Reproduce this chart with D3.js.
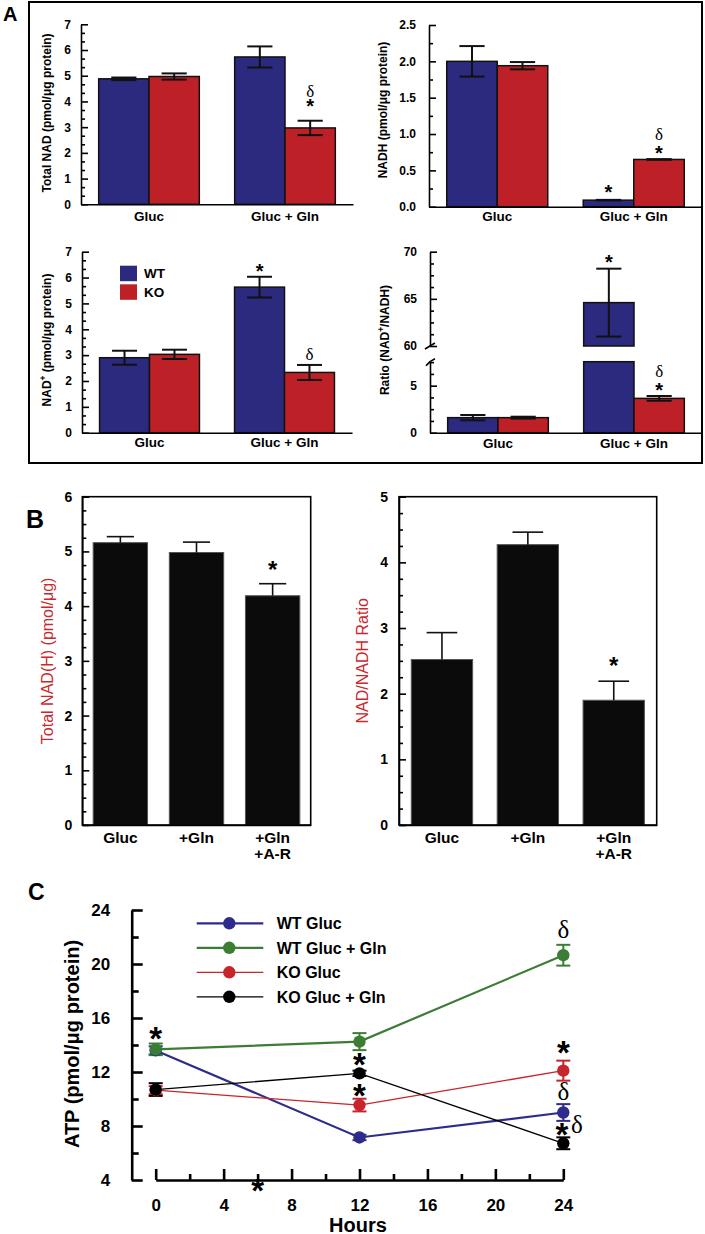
<!DOCTYPE html>
<html><head><meta charset="utf-8">
<script src="https://cdn.jsdelivr.net/npm/d3@7"></script>
<style>body{margin:0;background:#fff} svg{display:block}</style>
</head><body><svg id="c" width="705" height="1234"></svg>
<script>
// ================= DATA =================
// Panel A
const groupsA = ["Gluc", "Gluc + Gln"];
const seriesA = ["WT", "KO"];
const totalNadWT = [4.88, 5.73];
const totalNadWTErr = [0.05, 0.41];
const totalNadKO = [4.97, 2.97];
const totalNadKOErr = [0.12, 0.28];
const nadhWT = [2.00, 0.09];
const nadhWTErr = [0.21, 0.004];
const nadhKO = [1.94, 0.65];
const nadhKOErr = [0.05, 0.004];
const nadPlusWT = [2.90, 5.63];
const nadPlusWTErr = [0.27, 0.40];
const nadPlusKO = [3.03, 2.33];
const nadPlusKOErr = [0.18, 0.29];
const ratioWT = [1.60, 64.6];
const ratioWTErr = [0.28, 3.6];
const ratioKO = [1.60, 3.65];
const ratioKOErr = [0.10, 0.25];
const ticksTotalNad = [0, 1, 2, 3, 4, 5, 6, 7];
const ticksNadh = [0, 0.5, 1.0, 1.5, 2.0, 2.5];
const ticksNadPlus = [0, 1, 2, 3, 4, 5, 6, 7];
const ticksRatioLow = [0, 5];
const ticksRatioHigh = [60, 65, 70];
// Panel B
const catsB = ["Gluc", "+Gln", "+Gln\n+A-R"];
const totalNadhB = [5.16, 4.98, 4.19];
const totalNadhBErr = [0.11, 0.19, 0.22];
const ratioB = [2.52, 4.27, 1.90];
const ratioBErr = [0.41, 0.19, 0.29];
const ticksB1 = [0, 1, 2, 3, 4, 5, 6];
const ticksB2 = [0, 1, 2, 3, 4, 5];
// Panel C
const hoursC = [0, 12, 24];
const seriesC = ["WT Gluc", "WT Gluc + Gln", "KO Gluc", "KO Gluc + Gln"];
const atpWTGluc = [13.6, 7.15, 9.0];
const atpWTGlucErr = [0.3, 0.2, 0.62];
const atpWTGlucGln = [13.68, 14.25, 20.65];
const atpWTGlucGlnErr = [0.43, 0.63, 0.77];
const atpKOGluc = [10.65, 9.55, 12.1];
const atpKOGlucErr = [0.3, 0.47, 0.74];
const atpKOGlucGln = [10.7, 11.9, 6.72];
const atpKOGlucGlnErr = [0.47, 0.2, 0.44];
const ticksCY = [4, 8, 12, 16, 20, 24];
const ticksCX = [0, 4, 8, 12, 16, 20, 24];

// ================= STYLE =================
const FONT = '"Liberation Sans", Arial, Helvetica, sans-serif';
const SERIF = '"Liberation Serif", "Times New Roman", serif';
const colorsA = {WT: "#2b2a7e", KO: "#bd2127"};
const colorsC = ["#2d2c8c", "#3c7d36", "#c8242b", "#000000"];
const widthsC = [2.2, 2.2, 1.3, 1.3];
const redLabel = "#c9292e";

const svg = d3.select("#c");

function drawMark(parent, t, cx, cy, fs) {
  if (t === "*") {
    parent.append("text").attr("x", cx).attr("y", cy + 0.56 * fs).attr("text-anchor", "middle")
      .attr("font-family", FONT).attr("font-weight", "bold").attr("font-size", fs).text("*");
  } else {
    parent.append("text").attr("x", cx).attr("y", cy + 0.36 * fs).attr("text-anchor", "middle")
      .attr("font-family", SERIF).attr("font-size", fs).text(t);
  }
}

function yLabel(parent, parts, x, y, fs, color, weight) {
  const t = parent.append("text").attr("transform", `translate(${x},${y}) rotate(-90)`)
    .attr("text-anchor", "middle").attr("font-family", FONT).attr("font-size", fs)
    .attr("font-weight", weight).attr("fill", color);
  parts.forEach(p => {
    const ts = t.append("tspan").text(p.t);
    if (p.sup) ts.attr("font-size", fs * 0.7).attr("dy", -fs * 0.42);
    if (p.after) ts.attr("dy", fs * 0.42);
  });
}

function minorOf(lo, hi, step, majors) {
  return d3.range(lo, hi + 1e-6, step).filter(v => majors.every(m => Math.abs(m - v) > 1e-3));
}

function leftAxis(g, y, x, ticks, fmt, minor, pad, fs, majorLen, minorLen, sw) {
  const ax = g.append("g").attr("transform", `translate(${x},0)`)
    .call(d3.axisLeft(y).tickValues(ticks).tickFormat(fmt).tickSizeInner(-majorLen).tickSizeOuter(0).tickPadding(pad));
  ax.select(".domain").attr("stroke", "#000").attr("stroke-width", sw);
  ax.selectAll(".tick line").attr("stroke", "#000").attr("stroke-width", sw);
  ax.selectAll("text").attr("font-family", FONT).attr("font-weight", "bold").attr("font-size", fs).attr("fill", "#000");
  const mn = g.append("g").attr("transform", `translate(${x},0)`)
    .call(d3.axisLeft(y).tickValues(minor).tickFormat(() => "").tickSizeInner(-minorLen).tickSizeOuter(0));
  mn.select(".domain").remove();
  mn.selectAll(".tick line").attr("stroke", "#000").attr("stroke-width", sw);
  return ax;
}

function bandAxis(g, xb, y0, fs, base, sw, lineH) {
  const ax = g.append("g").attr("transform", `translate(0,${y0})`)
    .call(d3.axisBottom(xb).tickSize(0).tickSizeOuter(0));
  ax.select(".domain").attr("stroke", "#000").attr("stroke-width", sw);
  ax.selectAll(".tick text").each(function(d) {
    const t = d3.select(this);
    t.text(null).attr("y", base).attr("dy", null)
      .attr("font-family", FONT).attr("font-weight", "bold").attr("font-size", fs).attr("fill", "#000");
    String(d).split("\n").forEach((line, i) => {
      t.append("tspan").attr("x", 0).attr("y", base + i * lineH).text(line);
    });
  });
  return ax;
}

// ================= PANEL A =================
svg.append("rect").attr("x", 29).attr("y", 2).attr("width", 673).attr("height", 461)
  .attr("fill", "none").attr("stroke", "#000").attr("stroke-width", 2);
svg.append("text").attr("x", 3).attr("y", 21).attr("font-family", FONT).attr("font-weight", "bold")
  .attr("font-size", 20).text("A");

function chartA(o) {
  const g = svg.append("g");
  const x = d3.scaleBand().domain(groupsA).range([o.x0, o.x1]).paddingInner(0.26).paddingOuter(0.13);
  const xs = d3.scaleBand().domain(seriesA).range([0, x.bandwidth()]);
  const yLow = d3.scaleLinear().domain(o.domain).range([o.yBottom, o.yTop]);
  const yHigh = o.high ? d3.scaleLinear().domain(o.high.domain).range(o.high.range) : null;
  const yOf = v => (yHigh && v > o.domain[1]) ? yHigh(v) : yLow(v);
  const data = [];
  groupsA.forEach((grp, i) => {
    data.push({grp, s: "WT", v: o.wt[i], e: o.wtErr[i]});
    data.push({grp, s: "KO", v: o.ko[i], e: o.koErr[i]});
  });
  const bw = xs.bandwidth();
  data.forEach(d => {
    const bx = x(d.grp) + xs(d.s);
    if (yHigh && d.v > o.domain[1]) {
      g.append("rect").attr("x", bx).attr("y", yLow(o.domain[1])).attr("width", bw)
        .attr("height", yLow(0) - yLow(o.domain[1])).attr("fill", colorsA[d.s]).attr("stroke", "#111").attr("stroke-width", 1.5);
      g.append("rect").attr("x", bx).attr("y", yHigh(d.v)).attr("width", bw)
        .attr("height", yHigh(o.high.domain[0]) - yHigh(d.v)).attr("fill", colorsA[d.s]).attr("stroke", "#111").attr("stroke-width", 1.5);
    } else {
      g.append("rect").attr("x", bx).attr("y", yLow(d.v)).attr("width", bw)
        .attr("height", yLow(0) - yLow(d.v)).attr("fill", colorsA[d.s]).attr("stroke", "#111").attr("stroke-width", 1.5);
    }
  });
  data.forEach(d => {
    const cx = x(d.grp) + xs(d.s) + bw / 2;
    const yt = yOf(d.v + d.e), yb = yOf(d.v - d.e);
    g.append("line").attr("x1", cx).attr("x2", cx).attr("y1", yt).attr("y2", yb).attr("stroke", "#111").attr("stroke-width", 2);
    [yt, yb].forEach(yy => g.append("line").attr("x1", cx - bw / 4).attr("x2", cx + bw / 4)
      .attr("y1", yy).attr("y2", yy).attr("stroke", "#111").attr("stroke-width", 2));
  });
  // axes
  leftAxis(g, yLow, o.x0, o.ticks, o.fmt, minorOf(o.domain[0], o.domain[1], o.minorStep, o.ticks), o.pad, 12, 7, 4, 1.6);
  if (yHigh) {
    leftAxis(g, yHigh, o.x0, o.high.ticks, o.fmt, minorOf(o.high.domain[0], o.high.domain[1], o.minorStep, o.high.ticks), o.pad, 12, 7, 4, 1.6);
    const yb1 = yHigh(o.high.domain[0]), yb2 = yLow(o.domain[1]);
    g.append("line").attr("x1", o.x0 - 5).attr("y1", yb1 + 3).attr("x2", o.x0 + 5).attr("y2", yb1 - 3).attr("stroke", "#000").attr("stroke-width", 1.6);
    g.append("path").attr("d", `M${o.x0 - 4},${yb2 + 4} Q${o.x0},${yb2 - 1} ${o.x0 + 5},${yb2 - 3}`).attr("fill", "none").attr("stroke", "#000").attr("stroke-width", 1.6);
  }
  bandAxis(g, x, o.yBottom, 13.5, o.xBase, 1.6, 15);
  yLabel(g, o.ylabel, o.ylx, o.yly, 12, "#000", "bold");
  (o.annots || []).forEach(a => {
    const d = data.find(q => q.grp === groupsA[a.g] && q.s === a.s);
    const cx = x(d.grp) + xs(d.s) + bw / 2;
    drawMark(g, a.t, cx, yOf(d.v + d.e) - a.up, a.t === "*" ? 20 : 17);
  });
  return {g, x, xs};
}

chartA({x0: 81, x1: 353, yBottom: 204.3, yTop: 24.3, domain: [0, 7], ticks: ticksTotalNad, fmt: d3.format("d"),
  minorStep: 1 / 3, pad: 10, wt: totalNadWT, wtErr: totalNadWTErr, ko: totalNadKO, koErr: totalNadKOErr,
  xBase: 17, ylx: 51, yly: 113, ylabel: [{t: "Total NAD (pmol/\u03bcg protein)"}],
  annots: [{g: 1, s: "KO", t: "*", up: 19}, {g: 1, s: "KO", t: "\u03b4", up: 30}]});

chartA({x0: 429, x1: 702, yBottom: 206.7, yTop: 25, domain: [0, 2.5], ticks: ticksNadh, fmt: d3.format(".1f"),
  minorStep: 0.25, pad: 13, wt: nadhWT, wtErr: nadhWTErr, ko: nadhKO, koErr: nadhKOErr,
  xBase: 14, ylx: 387, yly: 110, ylabel: [{t: "NADH (pmol/\u03bcg protein)"}],
  annots: [{g: 1, s: "WT", t: "*", up: 12}, {g: 1, s: "KO", t: "*", up: 10}, {g: 1, s: "KO", t: "\u03b4", up: 25}]});

chartA({x0: 82, x1: 352, yBottom: 432.7, yTop: 251.7, domain: [0, 7], ticks: ticksNadPlus, fmt: d3.format("d"),
  minorStep: 1 / 3, pad: 10, wt: nadPlusWT, wtErr: nadPlusWTErr, ko: nadPlusKO, koErr: nadPlusKOErr,
  xBase: 14, ylx: 51, yly: 340,
  ylabel: [{t: "NAD"}, {t: "+", sup: true}, {t: "\u00a0(pmol/\u03bcg protein)", after: true}],
  annots: [{g: 1, s: "WT", t: "*", up: 10}, {g: 1, s: "KO", t: "\u03b4", up: 11}]});

chartA({x0: 430, x1: 702, yBottom: 432.7, yTop: 361.7, domain: [0, 7.55], ticks: ticksRatioLow, fmt: d3.format("d"),
  minorStep: 1.25, pad: 13, wt: ratioWT, wtErr: ratioWTErr, ko: ratioKO, koErr: ratioKOErr,
  high: {domain: [60, 70], range: [346, 251.7], ticks: ticksRatioHigh},
  xBase: 15, ylx: 389, yly: 340,
  ylabel: [{t: "Ratio (NAD"}, {t: "+", sup: true}, {t: "/NADH)", after: true}],
  annots: [{g: 1, s: "WT", t: "*", up: 11}, {g: 1, s: "KO", t: "*", up: 10}, {g: 1, s: "KO", t: "\u03b4", up: 25}]});

// legend A
seriesA.forEach((s, i) => {
  const ly = 265.7 + i * 18.6;
  svg.append("rect").attr("x", 120).attr("y", ly).attr("width", 17).attr("height", 15.5).attr("fill", colorsA[s]);
  svg.append("text").attr("x", 144).attr("y", ly + 12.5).attr("font-family", FONT).attr("font-weight", "bold")
    .attr("font-size", 13.5).text(s);
});

// ================= PANEL B =================
svg.append("text").attr("x", 26).attr("y", 528).attr("font-family", FONT).attr("font-weight", "bold")
  .attr("font-size", 25).text("B");

function chartB(o) {
  const g = svg.append("g");
  const x = d3.scaleBand().domain(catsB).range([o.x0, o.x1]).paddingInner(0.286).paddingOuter(0.143);
  const y = d3.scaleLinear().domain(o.domain).range([o.yBottom, o.yTop]);
  const bw = x.bandwidth();
  catsB.forEach((c, i) => {
    g.append("rect").attr("x", x(c)).attr("y", y(o.vals[i])).attr("width", bw).attr("height", y(0) - y(o.vals[i]))
      .attr("fill", "#0b0b0b").attr("stroke", "#555").attr("stroke-width", 1);
    const cx = x(c) + bw / 2, yt = y(o.vals[i] + o.errs[i]);
    g.append("line").attr("x1", cx).attr("x2", cx).attr("y1", y(o.vals[i])).attr("y2", yt).attr("stroke", "#111").attr("stroke-width", 1.6);
    g.append("line").attr("x1", cx - bw / 4).attr("x2", cx + bw / 4).attr("y1", yt).attr("y2", yt).attr("stroke", "#111").attr("stroke-width", 1.6);
  });
  g.append("rect").attr("x", o.x0).attr("y", o.yTop).attr("width", o.x1 - o.x0).attr("height", o.yBottom - o.yTop)
    .attr("fill", "none").attr("stroke", "#000").attr("stroke-width", 1.6);
  leftAxis(g, y, o.x0, o.ticks, d3.format("d"), minorOf(o.domain[0], o.domain[1], 0.25, o.ticks), o.pad, 14, 7, 4, 1.6);
  bandAxis(g, x, o.yBottom, 15.5, 18, 1.6, 15.5);
  yLabel(g, o.ylabel, o.ylx, (o.yTop + o.yBottom) / 2, 16, redLabel, "normal");
  o.annots.forEach(a => {
    drawMark(g, a.t, x(catsB[a.i]) + bw / 2, y(o.vals[a.i] + o.errs[a.i]) - a.up, 24);
  });
}

chartB({x0: 82.3, x1: 310.7, yTop: 496.7, yBottom: 825, domain: [0, 6], ticks: ticksB1, pad: 10,
  vals: totalNadhB, errs: totalNadhBErr, ylx: 52.5, ylabel: [{t: "Total NAD(H) (pmol/\u03bcg)"}],
  annots: [{i: 2, t: "*", up: 19}]});
chartB({x0: 399, x1: 656.7, yTop: 496.7, yBottom: 825, domain: [0, 5], ticks: ticksB2, pad: 11,
  vals: ratioB, errs: ratioBErr, ylx: 367.5, ylabel: [{t: "NAD/NADH Ratio"}],
  annots: [{i: 2, t: "*", up: 21}]});

// ================= PANEL C =================
svg.append("text").attr("x", 28).attr("y", 900).attr("font-family", FONT).attr("font-weight", "bold")
  .attr("font-size", 23).text("C");
(function() {
  const g = svg.append("g");
  const x = d3.scaleLinear().domain([0, 24]).range([155.7, 563.3]);
  const y = d3.scaleLinear().domain([4, 24]).range([1180, 910]);
  const vals = [atpWTGluc, atpWTGlucGln, atpKOGluc, atpKOGlucGln];
  const errs = [atpWTGlucErr, atpWTGlucGlnErr, atpKOGlucErr, atpKOGlucGlnErr];

  // axes
  leftAxis(g, y, 131.7, ticksCY, d3.format("d"), minorOf(4, 24, 2, ticksCY), 21.5, 17, 11, 7, 2.6);
  const xa = g.append("g").attr("transform", "translate(0,1180)")
    .call(d3.axisBottom(x).tickValues(ticksCX).tickFormat(d3.format("d")).tickSizeInner(-11).tickSizeOuter(0).tickPadding(18.5));
  xa.select(".domain").attr("stroke", "#000").attr("stroke-width", 2.6);
  xa.selectAll(".tick line").attr("stroke", "#000").attr("stroke-width", 2.6);
  xa.selectAll("text").attr("font-family", FONT).attr("font-weight", "bold").attr("font-size", 17).attr("fill", "#000");
  const xm = g.append("g").attr("transform", "translate(0,1180)")
    .call(d3.axisBottom(x).tickValues(minorOf(0, 24, 2, ticksCX)).tickFormat(() => "").tickSizeInner(-6).tickSizeOuter(0));
  xm.select(".domain").remove();
  xm.selectAll(".tick line").attr("stroke", "#000").attr("stroke-width", 2.6);

  g.append("text").attr("x", 358).attr("y", 1231.5).attr("text-anchor", "middle").attr("font-family", FONT)
    .attr("font-weight", "bold").attr("font-size", 20).text("Hours");
  yLabel(g, [{t: "ATP (pmol/\u03bcg protein)"}], 78.5, 1044, 20, "#000", "bold");

  const line = d3.line().x((d, i) => x(hoursC[i])).y(d => y(d));
  vals.forEach((v, s) => {
    g.append("path").attr("d", line(v)).attr("fill", "none").attr("stroke", colorsC[s]).attr("stroke-width", widthsC[s]);
  });
  const order = [0, 2, 1, 3];
  order.forEach(s => {
    vals[s].forEach((v, i) => {
      const cx = x(hoursC[i]), yt = y(v + errs[s][i]), yb = y(v - errs[s][i]);
      g.append("line").attr("x1", cx).attr("x2", cx).attr("y1", yt).attr("y2", yb).attr("stroke", colorsC[s]).attr("stroke-width", 2);
      [yt, yb].forEach(yy => g.append("line").attr("x1", cx - 7).attr("x2", cx + 7).attr("y1", yy).attr("y2", yy)
        .attr("stroke", colorsC[s]).attr("stroke-width", 2));
    });
  });
  order.forEach(s => {
    vals[s].forEach((v, i) => {
      g.append("circle").attr("cx", x(hoursC[i])).attr("cy", y(v)).attr("r", 6.2).attr("fill", colorsC[s]);
    });
  });

  // annotations
  const ann = [
    {h: 0, s: 1, t: "*", up: 12}, {h: 12, s: 3, t: "*", up: 13}, {h: 12, s: 2, t: "*", up: 10},
    {h: 24, s: 1, t: "\u03b4", up: 16}, {h: 24, s: 2, t: "*", up: 15}, {h: 24, s: 0, t: "\u03b4", up: 13},
    {h: 24, s: 3, t: "*", up: 10, dx: -1.5}, {h: 24, s: 3, t: "\u03b4", up: 13, dx: 13.5}
  ];
  ann.forEach(a => {
    const i = hoursC.indexOf(a.h);
    const v = vals[a.s][i] + errs[a.s][i];
    drawMark(g, a.t, x(a.h) + (a.dx || 0), y(v) - a.up, a.t === "*" ? 33 : 25);
  });
  drawMark(g, "*", x(6), y(4) + 3.3, 33);

  // legend
  seriesC.forEach((name, s) => {
    const ly = 923.3 + s * 24.5;
    g.append("line").attr("x1", 196.7).attr("x2", 263.3).attr("y1", ly).attr("y2", ly)
      .attr("stroke", colorsC[s]).attr("stroke-width", widthsC[s]);
    g.append("circle").attr("cx", 229.3).attr("cy", ly).attr("r", 6.2).attr("fill", colorsC[s]);
    g.append("text").attr("x", 276.7).attr("y", ly + 5.8).attr("font-family", FONT).attr("font-weight", "bold")
      .attr("font-size", 16).text(name);
  });
})();
</script></body></html>
